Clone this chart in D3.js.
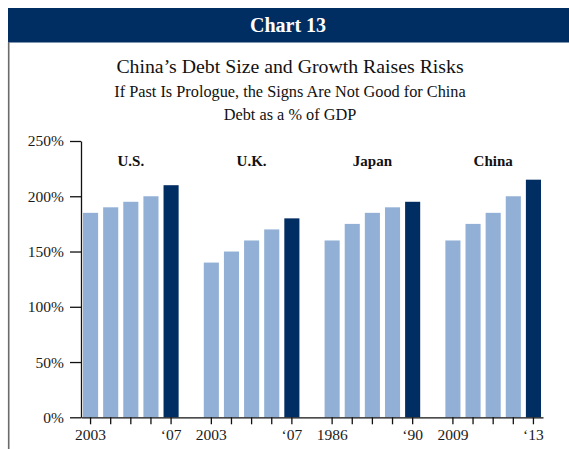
<!DOCTYPE html>
<html>
<head>
<meta charset="utf-8">
<script src="https://cdn.jsdelivr.net/npm/d3@7"></script>
<style>
  html, body { margin: 0; padding: 0; background: #fff; }
  svg { display: block; }
  svg text { font-family: "Liberation Serif", "DejaVu Serif", serif; }
</style>
</head>
<body>
<svg id="chart" width="569" height="449"></svg>
<script>
// Debt as a % of GDP, five years leading up to each crisis
const groups = ["U.S.", "U.K.", "Japan", "China"];
const usDebt = [185, 190, 195, 200, 210];
const ukDebt = [140, 150, 160, 170, 180];
const japanDebt = [160, 175, 185, 190, 195];
const chinaDebt = [160, 175, 185, 200, 215];
const startLabels = ["2003", "2003", "1986", "2009"];
const endLabels = ["‘07", "‘07", "‘90", "‘13"];
const yTicks = [0, 50, 100, 150, 200, 250];

const seriesByGroup = [usDebt, ukDebt, japanDebt, chinaDebt];

const navy = "#002d62";
const lightBlue = "#92b0d6";
const serif = "Liberation Serif, DejaVu Serif, serif";

const svg = d3.select("#chart");
const W = 569, H = 449;

// Frame: header band and left rule
svg.append("rect").attr("x", 8).attr("y", 8).attr("width", W - 8).attr("height", 34.5).attr("fill", navy);
svg.append("line").attr("x1", 8.7).attr("x2", 8.7).attr("y1", 42).attr("y2", H)
  .attr("stroke", "#6b6b6b").attr("stroke-width", 1.6);

const heading = (txt, yPos, size, opts = {}) => svg.append("text")
  .attr("x", opts.x || 290).attr("y", yPos).attr("text-anchor", "middle")
  .attr("font-family", serif).attr("font-size", size)
  .attr("font-weight", opts.bold ? "bold" : "normal")
  .attr("fill", opts.fill || "#111").text(txt);

heading("Chart 13", 32, 20, { x: 288, bold: true, fill: "#fff" });
heading("China’s Debt Size and Growth Raises Risks", 73, 19.8);
heading("If Past Is Prologue, the Signs Are Not Good for China", 97, 16.3);
heading("Debt as a % of GDP", 120, 16.3);

// Flat list of bar slots, with an empty slot between groups
const rows = [];
const slots = [];
seriesByGroup.forEach((vals, g) => {
  vals.forEach((v, i) => {
    const key = g + "-" + i;
    rows.push({ key, group: g, index: i, value: v, last: i === vals.length - 1 });
    slots.push(key);
  });
  if (g < seriesByGroup.length - 1) slots.push("gap-" + g);
});

const x = d3.scaleBand().domain(slots).range([81, 543]).paddingInner(0.25).paddingOuter(0.1);
const y = d3.scaleLinear().domain([0, 250]).range([417.3, 141]);

// Bars
svg.append("g").selectAll("rect").data(rows).join("rect")
  .attr("x", d => x(d.key))
  .attr("width", x.bandwidth())
  .attr("y", d => y(d.value))
  .attr("height", d => y(0) - y(d.value))
  .attr("fill", d => d.last ? navy : lightBlue);

// Y axis
const yAxis = svg.append("g").attr("transform", "translate(81,0)")
  .call(d3.axisLeft(y).tickValues(yTicks).tickFormat(d => d + "%").tickSize(11).tickSizeOuter(0).tickPadding(6));
yAxis.selectAll("text").attr("font-size", 15.5).attr("fill", "#1a1a1a").attr("font-family", serif);
yAxis.selectAll("line, path").attr("stroke", "#111").attr("stroke-width", 1.3);

// X axis: ticks under every bar, year labels at group ends
const labelFor = d => {
  const r = rows.find(r => r.key === d);
  if (r.index === 0) return startLabels[r.group];
  if (r.last) return endLabels[r.group];
  return "";
};
const xAxis = svg.append("g").attr("transform", `translate(0,${y(0)})`)
  .call(d3.axisBottom(x).tickValues(rows.map(r => r.key)).tickFormat(labelFor).tickSize(7).tickSizeOuter(0).tickPadding(5));
xAxis.selectAll("text").attr("font-size", 15.5).attr("fill", "#1a1a1a").attr("font-family", serif);
xAxis.selectAll("line, path").attr("stroke", "#111").attr("stroke-width", 1.3);

// Country labels centred over each group
svg.append("g").selectAll("text").data(groups).join("text")
  .attr("x", (d, g) => x(g + "-2") + x.bandwidth() / 2)
  .attr("y", 166)
  .attr("text-anchor", "middle")
  .attr("font-family", serif)
  .attr("font-weight", "bold")
  .attr("font-size", 15)
  .attr("fill", "#111")
  .text(d => d);
</script>
</body>
</html>
